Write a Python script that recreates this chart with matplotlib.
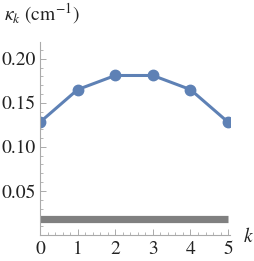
import matplotlib
matplotlib.use("Agg")
import matplotlib.pyplot as plt
from matplotlib.ticker import MultipleLocator

k = [0, 1, 2, 3, 4, 5]
kappa = [0.128, 0.165, 0.181, 0.181, 0.165, 0.128]
band_x = [0, 5]
band_y = [0.018, 0.018]
yticks = [0.05, 0.10, 0.15, 0.20]
ytick_labels = ["0.05", "0.10", "0.15", "0.20"]
xticks = [0, 1, 2, 3, 4, 5]

plt.rcParams['font.family'] = ['STIXGeneral', 'DejaVu Serif']
plt.rcParams['mathtext.fontset'] = 'stix'

fig = plt.figure(figsize=(2.55, 2.61), dpi=100)
ax = fig.add_axes([40/255, (261-235)/261, 190/255, (235-42)/261])

ax.plot(band_x, band_y, color='#808080', lw=5.2, solid_capstyle='butt')
ax.plot(k, kappa, color='#5E81B5', lw=2.2, marker='o', ms=7.5)

ax.set_xlim(0, 5.05)
ax.set_ylim(0, 0.219)
ax.set_xticks(xticks)
ax.set_yticks(yticks)
ax.set_yticklabels(ytick_labels)
ax.xaxis.set_minor_locator(MultipleLocator(0.2))
ax.yaxis.set_minor_locator(MultipleLocator(0.01))

for s in ['top', 'right']:
    ax.spines[s].set_visible(False)
for s in ['left', 'bottom']:
    ax.spines[s].set_color('#aaaaaa')
    ax.spines[s].set_linewidth(0.8)

ax.tick_params(which='both', direction='in', color='#aaaaaa', labelsize=14, labelcolor='#222222')
ax.tick_params(which='major', length=4, width=0.7)
ax.tick_params(which='minor', length=2, width=0.6)
ax.tick_params(axis='x', pad=4)
ax.tick_params(axis='y', pad=3)

fig.text(4/255, 1 - 14/261, r"$\kappa_k$ (cm$^{-1}$)", fontsize=14, va='center', ha='left', color='#222222')
fig.text(243/255, 1 - 237/261, r"$k$", fontsize=14, va='center', ha='left', color='#222222')

fig.savefig("out.png", dpi=100)
